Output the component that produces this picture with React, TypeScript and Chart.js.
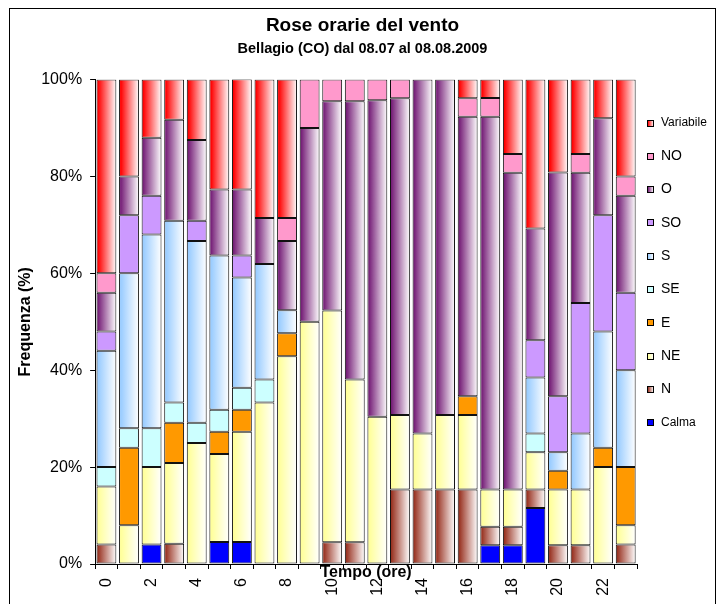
import React, { useEffect, useRef } from 'react';
import { Chart, registerables } from 'chart.js';

Chart.register(...registerables);
Chart.defaults.font.family = "'Liberation Sans', Arial, sans-serif";

const hours = ['0', '1', '2', '3', '4', '5', '6', '7', '8', '9', '10', '11', '12', '13', '14', '15', '16', '17', '18', '19', '20', '21', '22', '23'];
const yTicks = [0, 20, 40, 60, 80, 100];

const calma = [0, 0, 4, 0, 0, 4.55, 4.55, 0, 0, 0, 0, 0, 0, 0, 0, 0, 0, 3.85, 3.85, 11.54, 0, 0, 0, 0];
const nord = [4, 0, 0, 4.17, 0, 0, 0, 0, 0, 0, 4.5, 4.5, 0, 15.38, 15.38, 15.38, 15.38, 3.85, 3.85, 3.85, 3.85, 3.85, 0, 4];
const nordEst = [12, 8, 16, 16.67, 25, 18.18, 22.73, 33.33, 42.86, 50, 47.8, 33.6, 30.4, 15.38, 11.54, 15.38, 15.38, 7.69, 7.69, 7.69, 11.54, 11.54, 20, 4];
const est = [0, 16, 0, 8.33, 0, 4.55, 4.55, 0, 4.76, 0, 0, 0, 0, 0, 0, 0, 3.85, 0, 0, 0, 3.85, 0, 4, 12];
const sudEst = [4, 4, 8, 4.17, 4.17, 4.55, 4.55, 4.76, 0, 0, 0, 0, 0, 0, 0, 0, 0, 0, 0, 3.85, 0, 0, 0, 0];
const sud = [24, 32, 40, 37.5, 37.5, 31.82, 22.73, 23.81, 4.76, 0, 0, 0, 0, 0, 0, 0, 0, 0, 0, 11.54, 3.85, 11.54, 24, 20];
const sudOvest = [4, 12, 8, 0, 4.17, 0, 4.55, 0, 0, 0, 0, 0, 0, 0, 0, 0, 0, 0, 0, 7.69, 11.54, 26.92, 24, 16];
const ovest = [8, 8, 12, 20.83, 16.67, 13.64, 13.64, 9.52, 14.29, 40, 43.2, 57.4, 65.3, 65.38, 73.08, 69.23, 57.69, 76.92, 65.38, 23.08, 46.15, 26.92, 20, 20];
const nordOvest = [4, 0, 0, 0, 0, 0, 0, 0, 4.76, 10, 4.5, 4.5, 4.3, 3.85, 0, 0, 3.85, 3.85, 3.85, 0, 0, 3.85, 0, 4];
const variabile = [40, 20, 12, 8.33, 12.5, 22.73, 22.73, 28.57, 28.57, 0, 0, 0, 0, 0, 0, 0, 3.85, 3.85, 15.38, 30.77, 19.23, 15.38, 8, 20];

type Serie = { label: string; data: number[]; color: string; grad: boolean; small?: boolean };

const series: Serie[] = [
  { label: 'Calma', data: calma, color: '#0000FF', grad: false, small: true },
  { label: 'N', data: nord, color: '#993322', grad: true },
  { label: 'NE', data: nordEst, color: '#FFFF99', grad: true },
  { label: 'E', data: est, color: '#FF9900', grad: false },
  { label: 'SE', data: sudEst, color: '#CCFFFF', grad: false },
  { label: 'S', data: sud, color: '#99CCFF', grad: true },
  { label: 'SO', data: sudOvest, color: '#CC99FF', grad: false },
  { label: 'O', data: ovest, color: '#761F78', grad: true },
  { label: 'NO', data: nordOvest, color: '#FF99CC', grad: false },
  { label: 'Variabile', data: variabile, color: '#FF0000', grad: true, small: true },
];

const BAR_PCT = 0.88;

function makeGrad(c: CanvasRenderingContext2D, color: string, x0: number, x1: number) {
  const g = c.createLinearGradient(x0, 0, x1, 0);
  g.addColorStop(0, color);
  g.addColorStop(0.08, color);
  g.addColorStop(1, '#FFFFFF');
  return g;
}

// Gives each bar of a gradient series its own horizontal gradient fill
const gradientFill = {
  id: 'gradientFill',
  beforeDatasetsDraw(chart: any) {
    const c = chart.ctx;
    chart.data.datasets.forEach((_ds: any, di: number) => {
      const s = series[di];
      if (!s.grad) return;
      const meta = chart.getDatasetMeta(di);
      meta.data.forEach((el: any) => {
        const half = el.width / 2;
        if (!isFinite(el.x) || !isFinite(half)) return;
        el.options = Object.assign({}, el.options, {
          backgroundColor: makeGrad(c, s.color, el.x - half, el.x + half),
        });
      });
    });
  },
};

const sideLegend = {
  id: 'sideLegend',
  afterDraw(chart: any) {
    const { ctx, chartArea } = chart;
    const items = [...series].reverse();
    ctx.save();
    items.forEach((s, i) => {
      const cy = chartArea.top + 43 + i * 33.3;
      const bx = Math.round(chartArea.right + 10) + 0.5;
      const by = Math.round(cy - 3) + 0.5;
      ctx.fillStyle = s.grad ? makeGrad(ctx, s.color, bx, bx + 6) : s.color;
      ctx.fillRect(bx, by, 6, 6);
      ctx.strokeStyle = '#000';
      ctx.lineWidth = 1;
      ctx.strokeRect(bx, by, 6, 6);
      ctx.fillStyle = '#000';
      ctx.textBaseline = 'middle';
      ctx.textAlign = 'left';
      ctx.font = `${s.small ? 12 : 14}px 'Liberation Sans', Arial, sans-serif`;
      ctx.fillText(s.label, chartArea.right + 24, cy + 0.5);
    });
    ctx.restore();
  },
};

export default function App() {
  const ref = useRef<HTMLCanvasElement>(null);
  useEffect(() => {
    const chart = new Chart(ref.current as HTMLCanvasElement, {
      type: 'bar',
      data: {
        labels: hours,
        datasets: series.map((s) => ({
          label: s.label,
          data: s.data,
          backgroundColor: s.color,
          borderColor: '#111',
          borderWidth: 1,
          borderSkipped: false,
          barPercentage: BAR_PCT,
          categoryPercentage: 1,
        })),
      },
      options: {
        responsive: false,
        animation: false,
        layout: { padding: 0 },
        plugins: {
          legend: { display: false },
          tooltip: { enabled: false },
          title: {
            display: true,
            text: 'Rose orarie del vento',
            color: '#000',
            font: { size: 19, weight: 'bold' },
            padding: { top: 5, bottom: 0 },
          },
          subtitle: {
            display: true,
            text: 'Bellagio (CO) dal 08.07 al 08.08.2009',
            color: '#000',
            font: { size: 14.5, weight: 'bold' },
            padding: { top: 3, bottom: 22.3 },
          },
        },
        scales: {
          x: {
            stacked: true,
            grid: { display: true, offset: true, drawOnChartArea: false, drawTicks: true, tickLength: 5, color: '#000' },
            border: { display: true, color: '#000', width: 1 },
            ticks: {
              autoSkip: false,
              maxRotation: 90,
              minRotation: 90,
              padding: 9,
              color: '#000',
              font: { size: 16 },
              callback: (_v: any, i: number) => (i % 2 === 0 ? hours[i] : ''),
            },
            title: {
              display: true,
              text: 'Tempo (ore)',
              color: '#000',
              font: { size: 16, weight: 'bold' },
              padding: { top: -42, bottom: 22 },
            },
          },
          y: {
            stacked: true,
            min: yTicks[0],
            max: yTicks[yTicks.length - 1],
            afterBuildTicks: (axis: any) => {
              axis.ticks = yTicks.map((v) => ({ value: v }));
            },
            grid: { display: true, drawOnChartArea: false, drawTicks: true, tickLength: 5, color: '#000' },
            border: { display: true, color: '#000', width: 1 },
            ticks: {
              padding: 8,
              color: '#000',
              font: { size: 16 },
              callback: (v: any) => `${v}%`,
            },
            title: {
              display: true,
              text: 'Frequenza (%)',
              color: '#000',
              font: { size: 16, weight: 'bold' },
              padding: { top: 6, bottom: -2 },
            },
          },
          legendSpace: {
            type: 'linear',
            position: 'right',
            display: true,
            grid: { display: false, drawTicks: false },
            border: { display: false },
            ticks: { display: false },
            afterFit: (axis: any) => {
              axis.width = 78;
            },
          },
        },
      },
      plugins: [gradientFill, sideLegend],
    } as any);
    return () => chart.destroy();
  }, []);

  return (
    <div
      style={{
        position: 'absolute',
        left: 9,
        top: 8,
        width: 705,
        height: 595,
        border: '1px solid #000',
        borderBottom: 'none',
        background: '#fff',
      }}
    >
      <canvas ref={ref} width={705} height={595} style={{ display: 'block', width: 705, height: 595 }} />
    </div>
  );
}
